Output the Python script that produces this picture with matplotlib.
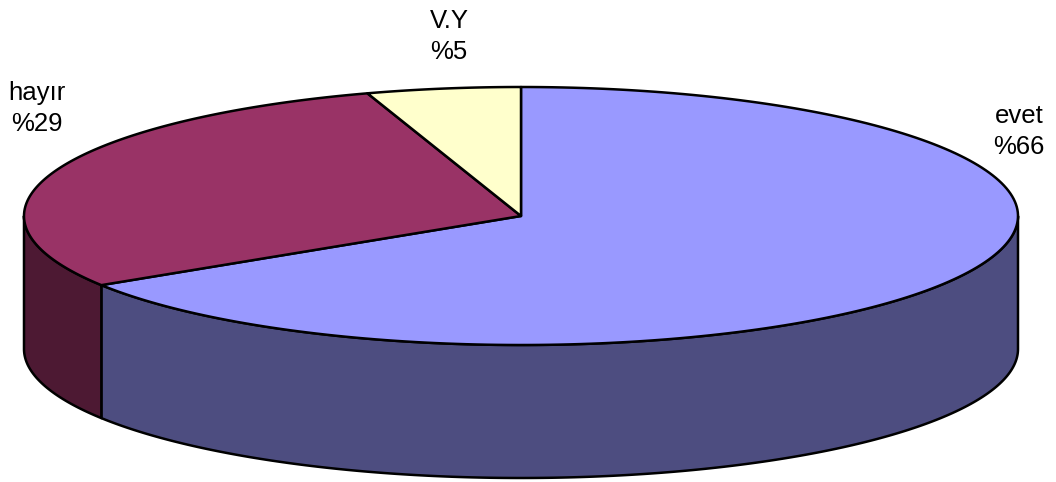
import numpy as np
import matplotlib.pyplot as plt
from matplotlib.patches import Polygon

plt.rcParams['font.family'] = ['Liberation Sans', 'DejaVu Sans']

labels = ['evet', 'hayır', 'V.Y']
values = [66, 29, 5]
top_colors = ['#9999FF', '#993366', '#FFFFCC']
side_colors = ['#4D4D80', '#4D1933', '#80806A']

# ellipse geometry (pixels)
cx, cy = 521, 216
a, b = 497, 129
depth = 133

fig = plt.figure(figsize=(10.56, 4.82), dpi=100)
ax = fig.add_axes([0, 0, 1, 1])
ax.set_xlim(0, 1056)
ax.set_ylim(482, 0)
ax.axis('off')


def arc(t0, t1, dy=0, n=200):
    t = np.radians(np.linspace(t0, t1, n))
    return np.column_stack([cx + a * np.cos(t), cy - b * np.sin(t) + dy])


fracs = np.array(values) / sum(values) * 360
starts = 90 - np.concatenate([[0], np.cumsum(fracs)[:-1]])
ends = starts - fracs

# side walls (front half only)
for s, e, col in zip(starts, ends, side_colors):
    for off in (0, -360):
        lo, hi = max(e, -180 + off), min(s, 0 + off)
        if hi > lo:
            top = arc(hi, lo)
            bot = arc(lo, hi, depth)
            ax.add_patch(Polygon(np.vstack([top, bot]), closed=True,
                                 facecolor=col, edgecolor='black', lw=1.8,
                                 joinstyle='round'))

# top faces
for s, e, col in zip(starts, ends, top_colors):
    pts = np.vstack([[cx, cy], arc(s, e)])
    ax.add_patch(Polygon(pts, closed=True, facecolor=col,
                         edgecolor='black', lw=1.8, joinstyle='round'))

# labels (y = baseline of the second line)
label_pos = [(1019, 154), (37, 131), (449, 59)]
for lab, v, (x, y) in zip(labels, values, label_pos):
    ax.text(x, y, f'{lab}\n%{v}', ha='center', va='baseline', fontsize=18.5,
            linespacing=1.37, color='black')

fig.savefig('out.png', dpi=100)
